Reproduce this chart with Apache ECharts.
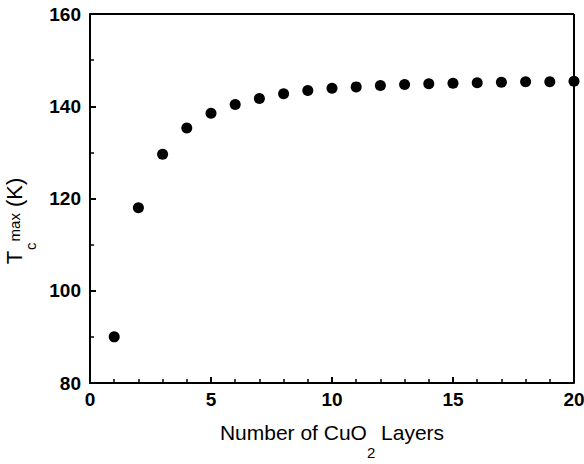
<!DOCTYPE html>
<html>
<head>
<meta charset="utf-8">
<script src="https://cdn.jsdelivr.net/npm/echarts@6/dist/echarts.min.js"></script>
<style>
  html, body { margin: 0; padding: 0; background: #fff; }
  #chart { width: 584px; height: 464px; }
</style>
</head>
<body>
<div id="chart"></div>
<script>
(function() {
  // layers vs. maximum Tc
  var layers = [1, 2, 3, 4, 5, 6, 7, 8, 9, 10, 11, 12, 13, 14, 15, 16, 17, 18, 19, 20];
  var tcMax = [90.0, 118.0, 129.6, 135.3, 138.5, 140.4, 141.7, 142.7, 143.4, 143.9,
               144.2, 144.5, 144.7, 144.9, 145.0, 145.1, 145.2, 145.3, 145.3, 145.4];

  var points = layers.map(function(n, i) { return [n, tcMax[i]]; });
  var ink = '#000';
  var font = '"Liberation Sans", Arial, sans-serif';

  var chart = echarts.init(document.getElementById('chart'), null, { renderer: 'svg' });
  chart.setOption({
    animation: false,
    backgroundColor: '#fff',
    grid: { left: 90, right: 10, top: 14, bottom: 81, outerBoundsMode: 'none', containLabel: false },
    xAxis: {
      type: 'value',
      min: 0, max: 20, interval: 5,
      name: 'Number of CuO{sub|2} Layers',
      nameLocation: 'middle',
      nameGap: 22,
      nameTextStyle: {
        color: ink, fontSize: 21, fontFamily: font,
        rich: {
          sub: { fontSize: 15, fontFamily: font, color: ink, padding: [40, 0, 0, 0] }
        }
      },
      axisLine: { onZero: false, lineStyle: { color: ink, width: 2 } },
      axisTick: { inside: true, length: 6, lineStyle: { color: ink, width: 2 } },
      minorTick: { show: true, splitNumber: 5, length: 4, lineStyle: { color: ink, width: 1.5 } },
      axisLabel: { color: ink, fontSize: 19, fontWeight: 'bold', fontFamily: font, margin: 7 },
      splitLine: { show: false }
    },
    yAxis: {
      type: 'value',
      min: 80, max: 160, interval: 20,
      name: 'T{sub|c}{sup|max} (K)',
      nameLocation: 'middle',
      nameGap: 41,
      nameRotate: 90,
      nameTextStyle: {
        color: ink, fontSize: 22, fontFamily: font,
        padding: [0, 45, 0, 0],
        rich: {
          sub: { fontSize: 15, fontFamily: font, color: ink, padding: [32, 0, 0, 1] },
          sup: { fontSize: 15, fontFamily: font, color: ink, padding: [0, 0, 0, 1] }
        }
      },
      axisLine: { onZero: false, lineStyle: { color: ink, width: 2 } },
      axisTick: { inside: true, length: 6, lineStyle: { color: ink, width: 2 } },
      minorTick: { show: true, splitNumber: 2, length: 4, lineStyle: { color: ink, width: 1.5 } },
      axisLabel: { color: ink, fontSize: 19, fontWeight: 'bold', fontFamily: font, margin: 9 },
      splitLine: { show: false }
    },
    series: [{
      type: 'scatter',
      data: points,
      symbol: 'circle',
      symbolSize: 11,
      itemStyle: { color: ink, opacity: 1 },
      clip: false
    }, {
      // top and right frame
      type: 'line',
      data: [],
      markLine: {
        silent: true,
        symbol: 'none',
        label: { show: false },
        lineStyle: { color: ink, type: 'solid', width: 2 },
        data: [
          { xAxis: 20 },
          { yAxis: 160 }
        ]
      }
    }]
  });
  window.addEventListener('resize', function() { chart.resize(); });
})();
</script>
</body>
</html>
